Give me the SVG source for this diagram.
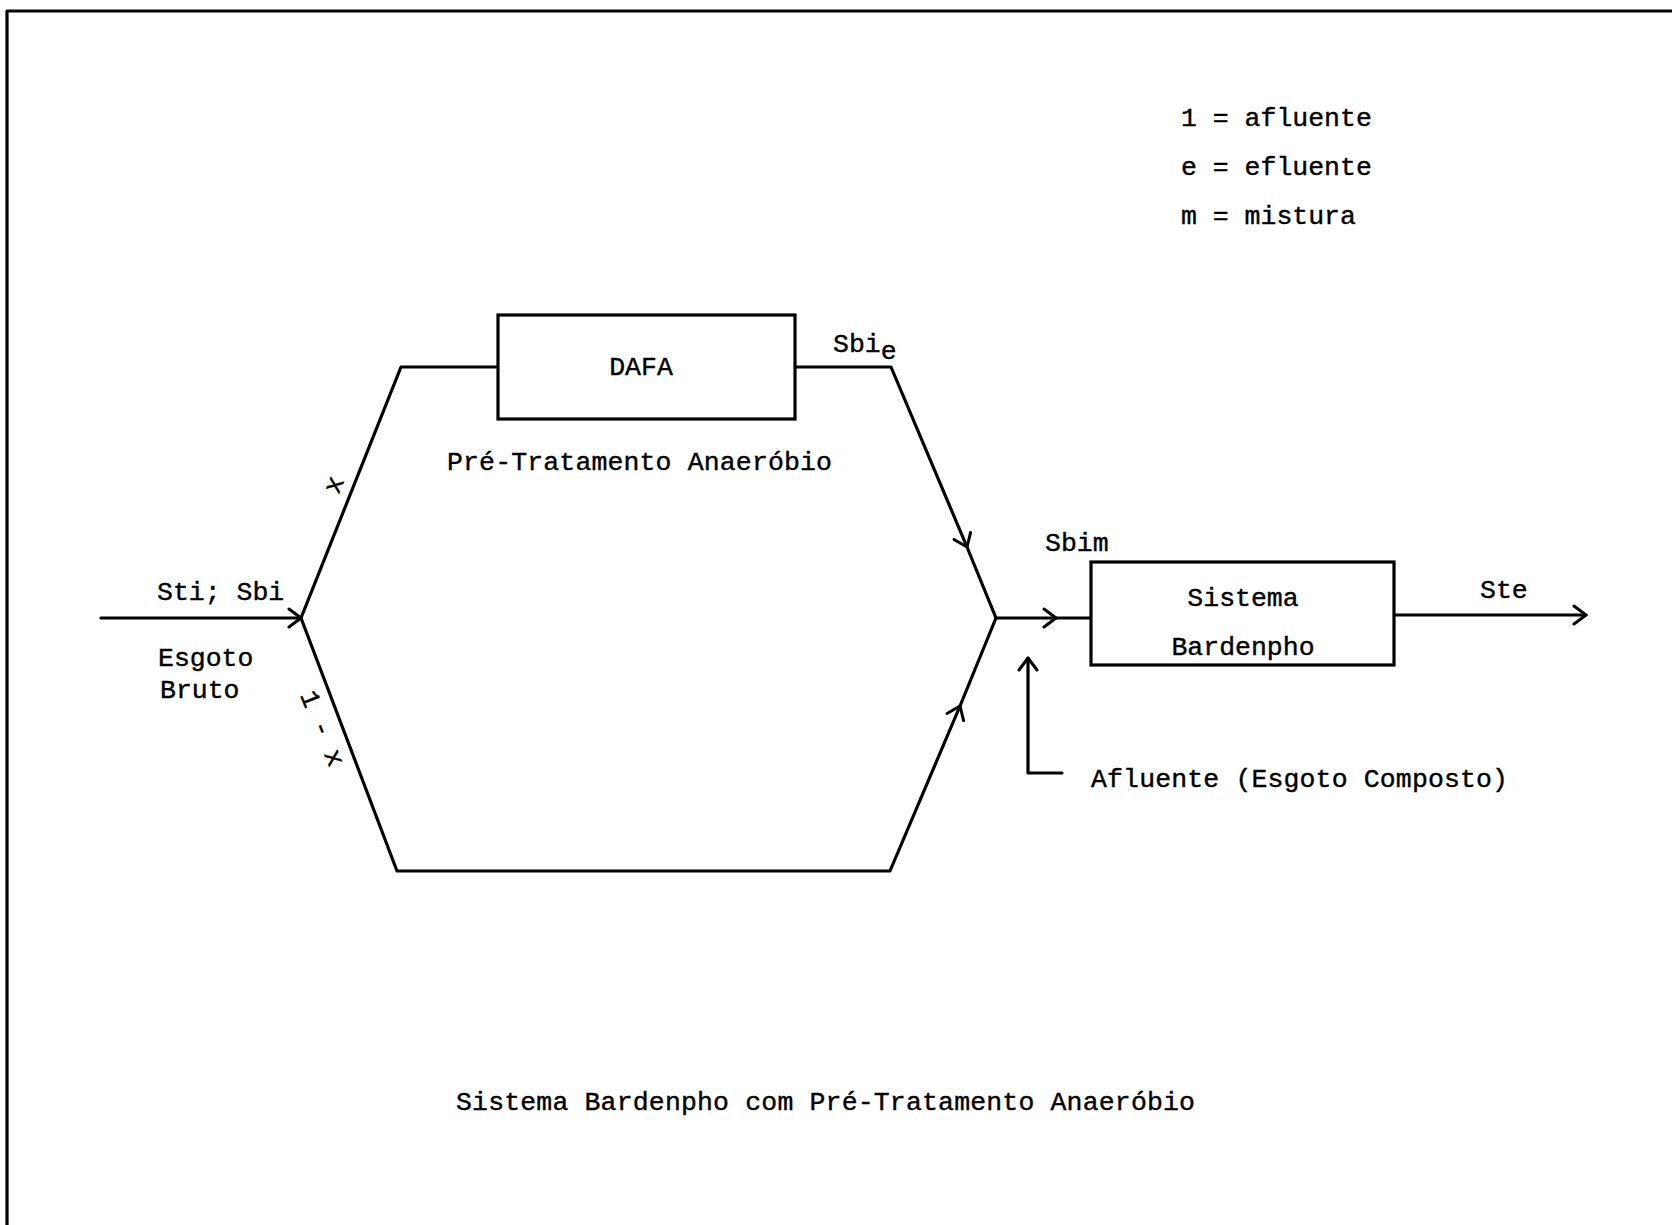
<svg xmlns="http://www.w3.org/2000/svg" width="1672" height="1225" viewBox="0 0 1672 1225">
<style>
  .t { font-family: "Liberation Mono", "DejaVu Sans Mono", monospace; font-size: 26.5px; fill: #000; stroke: #000; stroke-width: 0.4px; }
  .ln { fill: none; stroke: #000; stroke-width: 3.2; stroke-linejoin: round; stroke-linecap: round; }
  .box { fill: #fff; stroke: #000; stroke-width: 3.2; }
</style>
<defs>
  <marker id="chev" markerUnits="userSpaceOnUse" markerWidth="16" markerHeight="22" viewBox="0 0 16 22" refX="14" refY="11" orient="auto">
    <path d="M2,2 L14,11 L2,20" fill="none" stroke="#000" stroke-width="3" stroke-linecap="round" stroke-linejoin="round"/>
  </marker>
</defs>
<rect width="1672" height="1225" fill="#fff"/>
<g id="border">
  <path class="ln" d="M7,1225 L7,11 L1672,11"/>
</g>
<g id="connectors">
  <path class="ln" d="M101,618 L301,618" marker-end="url(#chev)"/>
  <path class="ln" d="M301,618 L401,367 L498,367"/>
  <path class="ln" d="M795,367 L891,367 L967,547" marker-end="url(#chev)"/>
  <path class="ln" d="M967,547 L996,618"/>
  <path class="ln" d="M301,618 L397,871 L890,871 L960,706" marker-end="url(#chev)"/>
  <path class="ln" d="M960,706 L996,618"/>
  <path class="ln" d="M996,618 L1056,618" marker-end="url(#chev)"/>
  <path class="ln" d="M1056,618 L1091,618"/>
  <path class="ln" d="M1394,615 L1586,615" marker-end="url(#chev)"/>
  <path class="ln" d="M1062,773 L1028,773 L1028,658" marker-end="url(#chev)"/>
</g>
<g id="node-dafa">
  <rect class="box" x="498" y="315" width="297" height="104"/>
  <text class="t" x="641" y="375" text-anchor="middle">DAFA</text>
</g>
<g id="node-bardenpho">
  <rect class="box" x="1091" y="562" width="303" height="103"/>
  <text class="t" x="1243" y="606" text-anchor="middle">Sistema</text>
  <text class="t" x="1243" y="655" text-anchor="middle">Bardenpho</text>
</g>
<g id="labels">
  <text class="t" x="1181" y="126">1 = afluente</text>
  <text class="t" x="1181" y="175">e = efluente</text>
  <text class="t" x="1181" y="224">m = mistura</text>
  <text class="t" x="833" y="352">Sbi<tspan dy="7">e</tspan></text>
  <text class="t" x="447" y="470" textLength="385">Pré-Tratamento Anaeróbio</text>
  <text class="t" x="157" y="600">Sti; Sbi</text>
  <text class="t" x="158" y="666">Esgoto</text>
  <text class="t" x="160" y="698">Bruto</text>
  <text class="t" transform="translate(334,485) rotate(-68)" text-anchor="middle" y="8">x</text>
  <text class="t" transform="translate(311,733) rotate(68)" text-anchor="middle" y="-4">1 - x</text>
  <text class="t" x="1045" y="551">Sbim</text>
  <text class="t" x="1480" y="598">Ste</text>
  <text class="t" x="1091" y="787" textLength="417">Afluente (Esgoto Composto)</text>
  <text class="t" x="456" y="1110" textLength="739">Sistema Bardenpho com Pré-Tratamento Anaeróbio</text>
</g>
</svg>
